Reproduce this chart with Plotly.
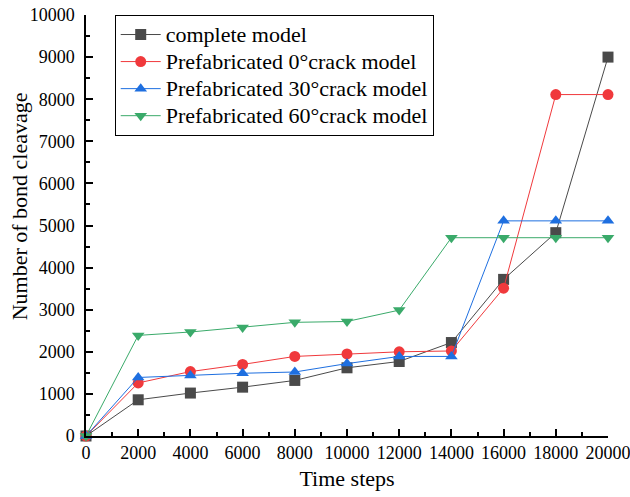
import plotly.graph_objects as go

time_steps = [0, 2000, 4000, 6000, 8000, 10000, 12000, 14000, 16000, 18000, 20000]
complete = [0, 860, 1020, 1160, 1320, 1620, 1770, 2220, 3720, 4830, 9000]
crack0 = [0, 1260, 1530, 1700, 1890, 1950, 2000, 2020, 3510, 8110, 8110]
crack30 = [0, 1390, 1440, 1490, 1520, 1720, 1890, 1890, 5110, 5110, 5110]
crack60 = [0, 2390, 2470, 2580, 2700, 2720, 2990, 4710, 4710, 4710, 4710]

x_ticks = list(range(0, 20001, 2000))
y_ticks = list(range(0, 10001, 1000))

names = ["complete model", "Prefabricated 0°crack model",
         "Prefabricated 30°crack model", "Prefabricated 60°crack model"]
colors = ["#4a4a4a", "#F0393C", "#1E6FE0", "#3AAA6A"]
symbols = ["square", "circle", "triangle-up", "triangle-down"]
series = [complete, crack0, crack30, crack60]

fig = go.Figure()
for name, ys, c, s in zip(names, series, colors, symbols):
    fig.add_trace(go.Scatter(
        x=time_steps, y=ys,
        name='<span style="font-size:22px">' + name + '</span>',
        mode="lines+markers",
        line=dict(color=c, width=1),
        marker=dict(symbol=s, size=11, color=c, line=dict(width=0)),
        cliponaxis=False,
    ))

font = "Liberation Serif, Times New Roman, serif"
fig.update_layout(
    width=630, height=497,
    margin=dict(l=86, r=22, t=15, b=61),
    plot_bgcolor="white", paper_bgcolor="white",
    font=dict(family=font, color="black", size=18),
    showlegend=True,
    legend=dict(x=0.055, y=1.0, xanchor="left", yanchor="top",
                bordercolor="black", borderwidth=1, bgcolor="white",
                font=dict(family=font, size=18.5), tracegroupgap=0,
                itemwidth=40),
    xaxis=dict(range=[0, 20000], tickvals=x_ticks,
               ticktext=[str(v) for v in x_ticks],
               automargin=False, ticklabeloverflow="allow",
               showgrid=False, zeroline=False, showline=True,
               linecolor="black", linewidth=1.5, ticks="inside",
               ticklen=7, tickcolor="black", tickwidth=1.5,
               tickfont=dict(size=18, family=font),
               minor=dict(ticks="inside", ticklen=4, dtick=1000,
                          tickcolor="black", tickwidth=1.5),
               title=dict(text="Time steps", font=dict(size=22, family=font),
                          standoff=8)),
    yaxis=dict(range=[0, 10000], tickvals=y_ticks,
               ticktext=[str(v) for v in y_ticks],
               automargin=False, ticklabeloverflow="allow",
               ticklabelstandoff=6,
               showgrid=False, zeroline=False, showline=True,
               linecolor="black", linewidth=1.5, ticks="inside",
               ticklen=7, tickcolor="black", tickwidth=1.5,
               tickfont=dict(size=18, family=font),
               minor=dict(ticks="inside", ticklen=4, dtick=500,
                          tickcolor="black", tickwidth=1.5)),
    annotations=[dict(text="Number of bond cleavage", textangle=-90,
                      xref="paper", yref="paper", x=-0.128, y=0.546,
                      xanchor="center", yanchor="middle", showarrow=False,
                      font=dict(size=22, family=font, color="black"))],
)

fig.write_html("out.html")
